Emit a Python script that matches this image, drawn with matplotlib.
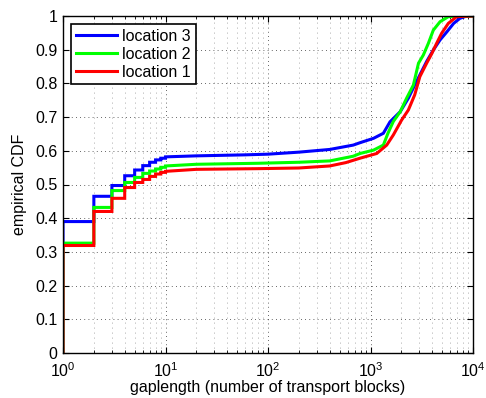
import numpy as np
import matplotlib
matplotlib.use("Agg")
import matplotlib.pyplot as plt
from matplotlib.ticker import LogLocator, NullFormatter

plt.rcParams['font.family'] = ['Liberation Sans', 'DejaVu Sans']
plt.rcParams['mathtext.fontset'] = 'custom'
plt.rcParams['mathtext.rm'] = 'Liberation Sans'

# integer gap lengths 1..10 (discrete steps)
k_small = [1, 2, 3, 4, 5, 6, 7, 8, 9, 10]
loc3_small = [0.390, 0.465, 0.497, 0.526, 0.543, 0.556, 0.566, 0.573, 0.578, 0.582]
loc2_small = [0.326, 0.432, 0.482, 0.506, 0.521, 0.533, 0.540, 0.546, 0.551, 0.555]
loc1_small = [0.319, 0.420, 0.459, 0.491, 0.506, 0.515, 0.524, 0.531, 0.536, 0.539]

# larger gap lengths (dense steps, appear smooth)
loc3_x = [10, 20, 60, 100, 200, 400, 680, 790, 1070, 1335, 1550, 1950, 2340, 2700, 3030, 3530, 4100, 4770, 5560, 6470, 7450, 8700, 10000]
loc3_y = [0.582, 0.585, 0.588, 0.590, 0.596, 0.604, 0.617, 0.624, 0.637, 0.652, 0.686, 0.716, 0.756, 0.795, 0.825, 0.865, 0.899, 0.929, 0.953, 0.978, 0.993, 1.0, 1.0]
loc2_x = [10, 20, 80, 200, 400, 680, 790, 1070, 1335, 1480, 1670, 1950, 2250, 2620, 2940, 3275, 3670, 4100, 4770, 5740, 10000]
loc2_y = [0.555, 0.560, 0.563, 0.566, 0.570, 0.584, 0.592, 0.602, 0.617, 0.652, 0.687, 0.716, 0.756, 0.795, 0.860, 0.884, 0.919, 0.958, 0.983, 0.998, 1.0]
loc1_x = [10, 20, 80, 200, 400, 575, 790, 1150, 1440, 1670, 2010, 2340, 2700, 3030, 3530, 3970, 4420, 4950, 5740, 6930, 10000]
loc1_y = [0.539, 0.545, 0.547, 0.549, 0.555, 0.565, 0.578, 0.592, 0.617, 0.647, 0.691, 0.721, 0.766, 0.820, 0.860, 0.889, 0.919, 0.949, 0.978, 0.998, 1.0]

labels = ['location 3', 'location 2', 'location 1']
colors = ['#0000ff', '#00ff00', '#ff0000']


def build(ks, ys, xs, yc):
    vx = [ks[0]]
    vy = [0.0]
    for i in range(len(ks) - 1):
        vx += [ks[i], ks[i + 1]]
        vy += [ys[i], ys[i]]
    vx += list(xs)
    vy += list(yc)
    return vx, vy


FS = 11.5
fig = plt.figure(figsize=(4.86, 3.98), dpi=100)
ax = fig.add_axes([63 / 486, 45 / 398, 410 / 486, 337 / 398])

series = [(k_small, loc3_small, loc3_x, loc3_y),
          (k_small, loc2_small, loc2_x, loc2_y),
          (k_small, loc1_small, loc1_x, loc1_y)]
for (ks, ys, xs, yc), lab, c in zip(series, labels, colors):
    vx, vy = build(ks, ys, xs, yc)
    ax.plot(vx, vy, color=c, lw=2.2, label=lab, solid_joinstyle='miter')

ax.set_xscale('log')
ax.set_xlim(1, 1e4)
ax.set_ylim(0, 1)
ax.xaxis.set_major_locator(LogLocator(base=10, numticks=10))
ax.xaxis.set_minor_locator(LogLocator(base=10, subs=np.arange(2, 10), numticks=20))
ax.xaxis.set_minor_formatter(NullFormatter())
ax.set_yticks(np.arange(0, 1.01, 0.1))
ax.set_yticklabels(['0', '0.1', '0.2', '0.3', '0.4', '0.5', '0.6', '0.7', '0.8', '0.9', '1'])

ax.grid(True, which='major', color='black', linestyle=(0, (1, 4)), linewidth=0.6, alpha=0.8)
ax.grid(True, which='minor', axis='x', color='black', linestyle=(0, (1, 5)), linewidth=0.6, alpha=0.45)
ax.tick_params(which='both', direction='in', top=True, right=True, labelsize=FS)
ax.tick_params(axis='x', which='major', length=4, pad=6)
ax.tick_params(axis='y', which='major', length=4, pad=4)
ax.tick_params(which='minor', length=2)
for s in ax.spines.values():
    s.set_linewidth(1.0)

ax.set_xlabel('gaplength (number of transport blocks)', fontsize=FS, labelpad=0)
ax.set_ylabel('empirical CDF', fontsize=FS, labelpad=6)

leg = ax.legend(loc='upper left', fontsize=FS, fancybox=False, framealpha=1,
                edgecolor='black', borderaxespad=0.5, handlelength=2.6,
                handletextpad=0.3, labelspacing=0.18, borderpad=0.3)
leg.get_frame().set_linewidth(1.2)

fig.savefig('out.png', dpi=100)
